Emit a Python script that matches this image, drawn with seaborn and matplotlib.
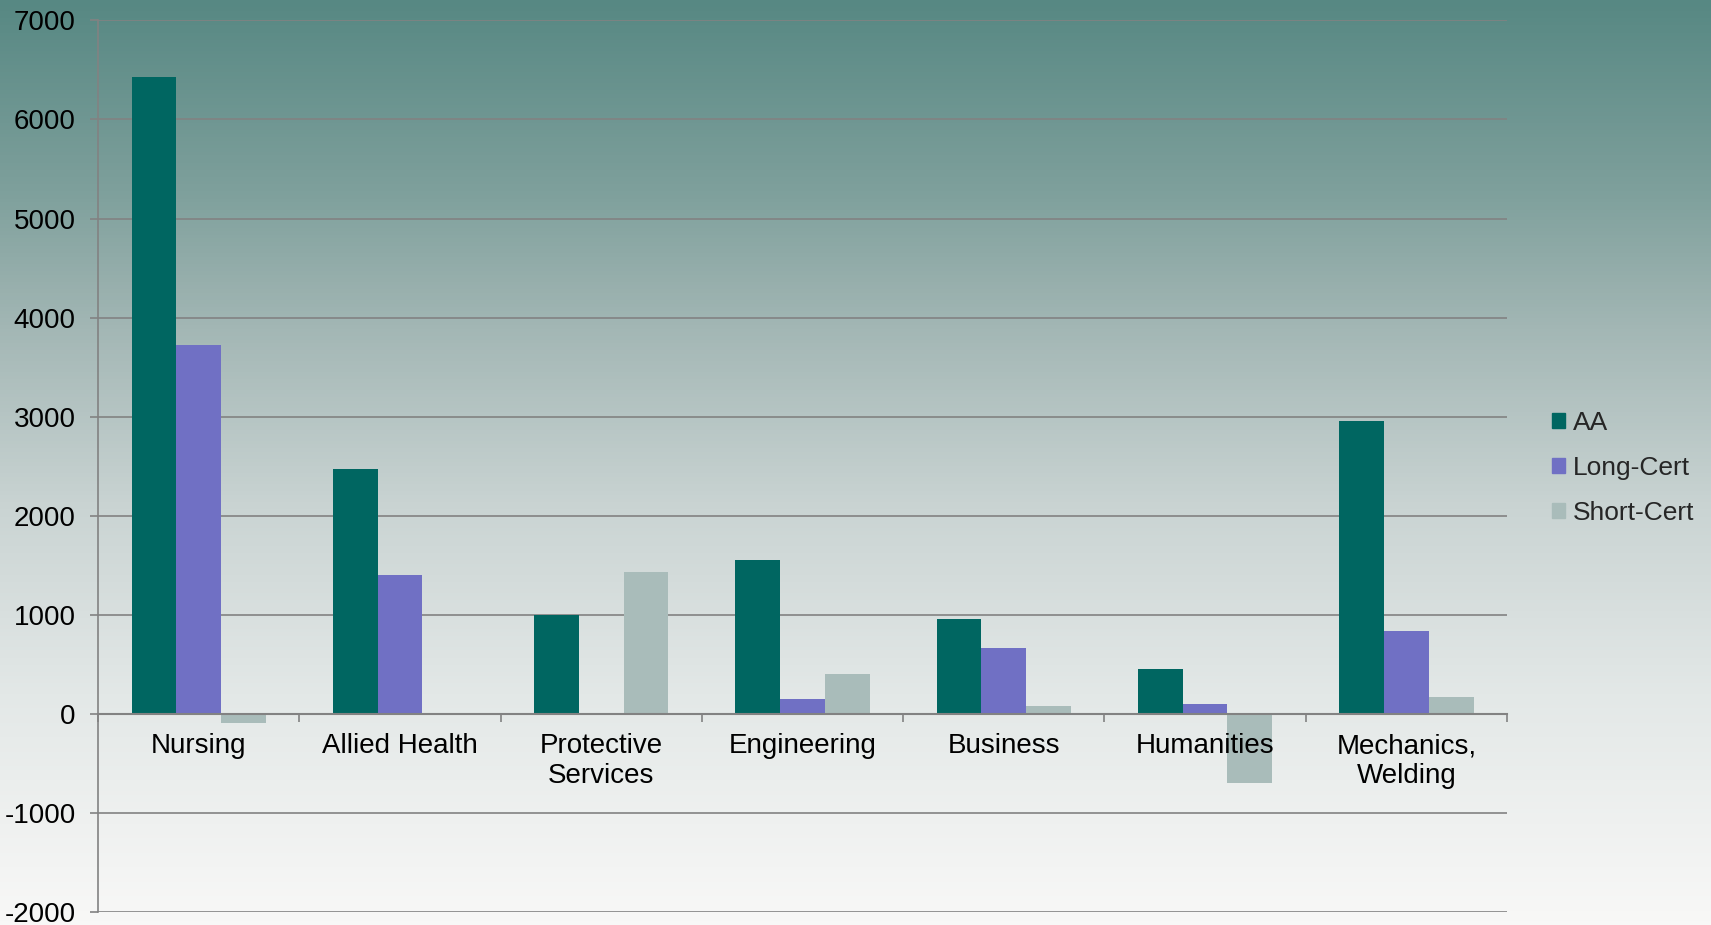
import numpy as np
import pandas as pd
import matplotlib
matplotlib.use("Agg")
import matplotlib.pyplot as plt
import seaborn as sns
from matplotlib.colors import LinearSegmentedColormap

categories = ["Nursing", "Allied Health", "Protective\nServices", "Engineering",
              "Business", "Humanities", "Mechanics,\nWelding"]
series = ["AA", "Long-Cert", "Short-Cert"]
aa_values = [6430, 2470, 1000, 1550, 960, 450, 2960]
long_cert_values = [3720, 1400, 0, 150, 670, 100, 840]
short_cert_values = [-90, 0, 1430, 400, 80, -700, 175]
colors = ["#006661", "#7070C4", "#A9BCBA"]
y_ticks = list(range(-2000, 7001, 1000))

rows = []
for s, vals in zip(series, [aa_values, long_cert_values, short_cert_values]):
    for c, v in zip(categories, vals):
        rows.append({"category": c, "series": s, "value": v})
df = pd.DataFrame(rows)

sns.set_style("white")
plt.rcParams["font.family"] = ["Liberation Sans", "DejaVu Sans"]

fig = plt.figure(figsize=(17.11, 9.25), dpi=100)

# gradient background
bg = fig.add_axes([0, 0, 1, 1], zorder=-10)
grad_cmap = LinearSegmentedColormap.from_list(
    "bg", [(0.0, "#578883"), (0.2, "#7D9F9B"), (0.35, "#A2B6B4"),
           (0.55, "#CAD4D3"), (0.75, "#E3E8E7"), (1.0, "#F8F8F7")])
bg.imshow(np.linspace(0, 1, 256).reshape(-1, 1), aspect="auto", cmap=grad_cmap,
          extent=[0, 1, 0, 1], origin="upper")
bg.set_axis_off()

ax = fig.add_axes([0.0573, 0.014, 0.8235, 0.964])
ax.patch.set_alpha(0)

sns.barplot(data=df, x="category", y="value", hue="series", palette=colors,
            hue_order=series, order=categories, width=0.667, saturation=1,
            linewidth=0, errorbar=None, ax=ax, zorder=3)

ax.set_ylim(-2000, 7000)
ax.set_xlim(-0.5, len(categories) - 0.5)
ax.set_yticks(y_ticks)
ax.set_yticklabels([str(t) for t in y_ticks])
ax.yaxis.grid(True, color="#828282", linewidth=1.2)
ax.set_axisbelow(True)
ax.xaxis.set_zorder(5)
ax.set_xlabel("")
ax.set_ylabel("")

for sp in ["top", "right"]:
    ax.spines[sp].set_visible(False)
ax.spines["left"].set_color("#828282")
ax.spines["left"].set_linewidth(1.2)
ax.spines["bottom"].set_position(("data", 0))
ax.spines["bottom"].set_color("#828282")
ax.spines["bottom"].set_linewidth(1.5)
ax.spines["bottom"].set_zorder(4)

ax.tick_params(axis="y", length=6, width=1.2, color="#828282", labelsize=20,
               labelcolor="black", pad=10, direction="out", left=True)
ax.set_xticks(np.arange(-0.5, len(categories), 1.0), minor=True)
ax.tick_params(axis="x", which="major", length=0, labelsize=20, labelcolor="black", pad=14)
ax.tick_params(axis="x", which="minor", length=6, width=1.2, color="#828282",
               direction="out", bottom=True)

if ax.get_legend() is not None:
    ax.get_legend().remove()
handles = [plt.Rectangle((0, 0), 1, 1, color=c) for c in colors]
fig.legend(handles, series, loc="center left", bbox_to_anchor=(0.893, 0.494),
           frameon=False, fontsize=19, handlelength=0.5, handleheight=0.5,
           handletextpad=0.3, labelspacing=0.8)

fig.savefig("out.png", dpi=100)
